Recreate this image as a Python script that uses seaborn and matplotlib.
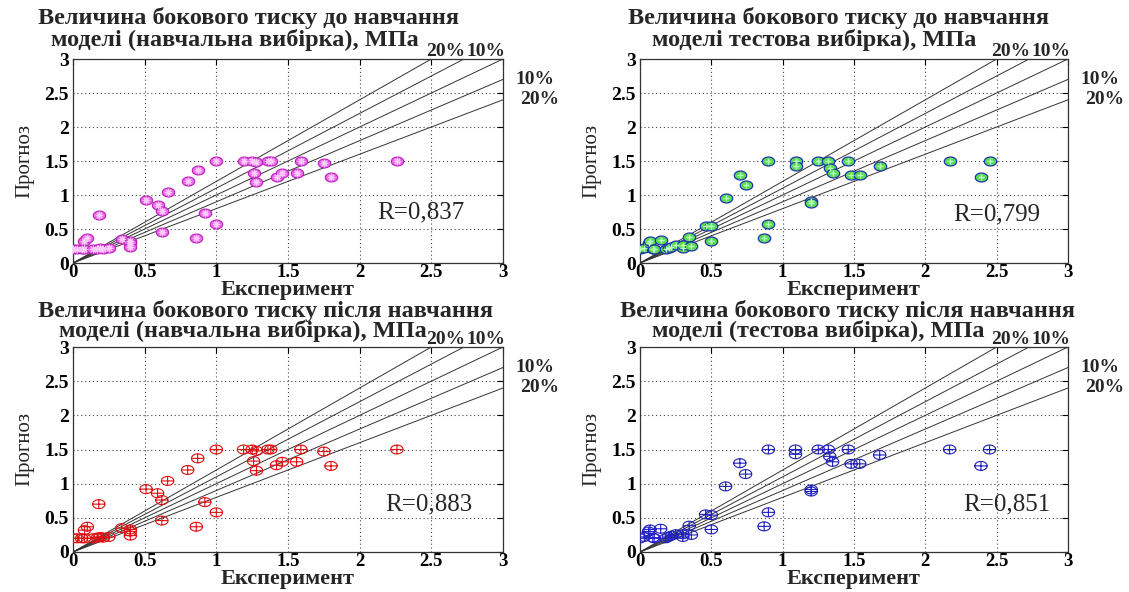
import numpy as np
import pandas as pd
import matplotlib
matplotlib.use("Agg")
import matplotlib.pyplot as plt
from matplotlib.path import Path
import seaborn as sns

# ---- data: lateral pressure, experiment vs. model forecast (MPa) ----
train_exp = [0.00, 0.03, 0.06, 0.08, 0.14, 0.17, 0.19, 0.21, 0.25, 0.08, 0.10,
             0.18, 0.34, 0.40, 0.40, 0.40, 0.51, 0.59, 0.62, 0.62, 0.66, 0.80,
             0.87, 0.86, 0.92, 1.00, 1.00, 1.19, 1.25, 1.28, 1.26, 1.28, 1.36,
             1.38, 1.42, 1.46, 1.56, 1.59, 1.75, 1.80, 2.26]
train_pred = [0.20, 0.20, 0.20, 0.20, 0.20, 0.21, 0.22, 0.21, 0.22, 0.32, 0.37,
              0.70, 0.35, 0.33, 0.30, 0.24, 0.92, 0.86, 0.76, 0.46, 1.04, 1.20,
              1.37, 0.37, 0.73, 1.50, 0.58, 1.50, 1.50, 1.48, 1.33, 1.19, 1.50,
              1.50, 1.27, 1.32, 1.32, 1.50, 1.47, 1.26, 1.50]

test_exp = [0.00, 0.03, 0.06, 0.07, 0.145, 0.09, 0.10, 0.18, 0.20, 0.22, 0.25,
            0.30, 0.30, 0.345, 0.36, 0.46, 0.50, 0.50, 0.60, 0.70, 0.74, 0.90,
            0.90, 0.87, 1.09, 1.09, 1.20, 1.20, 1.25, 1.32, 1.33, 1.35, 1.46,
            1.48, 1.54, 1.68, 2.17, 2.39, 2.45]
test_pred = [0.20, 0.22, 0.30, 0.33, 0.34, 0.21, 0.20, 0.20, 0.22, 0.24, 0.26,
             0.22, 0.26, 0.385, 0.25, 0.55, 0.54, 0.33, 0.96, 1.30, 1.14, 1.50,
             0.58, 0.375, 1.50, 1.43, 0.915, 0.885, 1.50, 1.50, 1.40, 1.32, 1.50,
             1.29, 1.29, 1.42, 1.50, 1.26, 1.50]

# forecast / experiment ratios of the +-10 % and +-20 % bands
band_ratios = [1.2, 1.1, 1.0, 0.9, 0.8]
top_band_labels = ["20%", "10%"]
side_band_labels = ["10%", "20%"]

r_labels = ["R=0,837", "R=0,799", "R=0,883", "R=0,851"]
titles = [
    ("Величина бокового тиску до навчання", "моделі (навчальна вибірка), МПа"),
    ("Величина бокового тиску до навчання", "моделі тестова вибірка), МПа"),
    ("Величина бокового тиску після навчання", "моделі (навчальна вибірка), МПа"),
    ("Величина бокового тиску після навчання", "моделі (тестова вибірка), МПа"),
]
tick_values = [0, 0.5, 1, 1.5, 2, 2.5, 3]
tick_labels = ["0", "0.5", "1", "1.5", "2", "2.5", "3"]
x_label = "Експеримент"
y_label = "Прогноз"

# ---- style ----
sns.set_style("white")
plt.rcParams["font.family"] = ["Liberation Serif", "DejaVu Serif"]

W, H = 1129, 592
fig = plt.figure(figsize=(W / 100, H / 100), dpi=100)

# axes boxes in pixels: left, top, right, bottom
boxes = [(73, 59, 503, 263), (640, 59, 1068, 263),
         (73, 347, 503, 552), (640, 347, 1068, 552)]
# horizontal centres of the two title lines, relative to the axes' left edge
title_offsets = [(175, 162), (198, 174), (193, 170), (208, 178)]
# vertical distance of the two title lines above the axes' top edge
title_rise = [(41, 19), (41, 19), (36, 16), (36, 16)]
r_pos = [(2.43, 0.74), (2.50, 0.72), (2.48, 0.70), (2.57, 0.70)]

# elliptical marker outlines
t = np.linspace(0, 2 * np.pi, 49)
ell = np.column_stack([np.cos(t), 0.72 * np.sin(t)])
ring = Path(ell, closed=False)
cross_verts = np.vstack([ell, [[-1, 0], [1, 0], [0, -0.72], [0, 0.72]]])
cross_codes = ([Path.MOVETO] + [Path.LINETO] * (len(ell) - 1)
               + [Path.MOVETO, Path.LINETO, Path.MOVETO, Path.LINETO])
ring_plus = Path(cross_verts, cross_codes)

datasets = [(train_exp, train_pred), (test_exp, test_pred),
            (train_exp, train_pred), (test_exp, test_pred)]

lab_kw = dict(textcoords="offset points", fontsize=14, fontweight="bold",
              annotation_clip=False)

for i, ((l, tp, r, b), (xs, ys)) in enumerate(zip(boxes, datasets)):
    ax = fig.add_axes([l / W, 1 - b / H, (r - l) / W, (b - tp) / H])
    df = pd.DataFrame({"exp": xs, "pred": ys})

    # ratio lines through the origin, clipped to the 3 x 3 box
    for k in band_ratios:
        x_end = min(3.0, 3.0 / k)
        sns.lineplot(x=[0, x_end], y=[0, k * x_end], ax=ax, color="#333333",
                     linewidth=0.7, zorder=2)

    if i == 0:
        sns.scatterplot(data=df, x="exp", y="pred", ax=ax, marker=ring, s=80,
                        facecolor="#ee66ee", edgecolor="#bb22bb", linewidth=0.8,
                        zorder=3)
        sns.scatterplot(data=df, x="exp", y="pred", ax=ax, marker=(8, 2, 0),
                        s=22, color="#ffccff", linewidth=0.8, zorder=4)
    elif i == 1:
        sns.scatterplot(data=df, x="exp", y="pred", ax=ax, marker=ring, s=80,
                        facecolor="#55dd55", edgecolor="#2233aa", linewidth=0.9,
                        zorder=3)
        sns.scatterplot(data=df, x="exp", y="pred", ax=ax, marker="+",
                        s=22, color="#bbffbb", linewidth=1.0, zorder=4)
    else:
        col = "#e01010" if i == 2 else "#2020c0"
        sns.scatterplot(data=df, x="exp", y="pred", ax=ax, marker=ring_plus,
                        s=80, facecolor="none", edgecolor=col, linewidth=0.8,
                        zorder=3)

    ax.set_xlim(0, 3)
    ax.set_ylim(0, 3)
    ax.set_xticks(tick_values)
    ax.set_yticks(tick_values)
    ax.set_xticklabels(tick_labels, fontsize=13.5, fontweight="bold")
    ax.set_yticklabels(tick_labels, fontsize=14, fontweight="bold")
    ax.tick_params(direction="in", length=4, width=0.8, pad=1,
                   top=True, right=True, colors="black")
    ax.tick_params(axis="y", pad=3)
    ax.grid(True, linestyle=(0, (1, 2.5)), color="#444444", linewidth=0.8)
    ax.set_axisbelow(True)
    for sp in ax.spines.values():
        sp.set_color("#333333")
        sp.set_linewidth(0.9)

    ax.set_xlabel(x_label, fontsize=16, fontweight="bold", labelpad=-1)
    ax.set_ylabel(y_label, fontsize=15, labelpad=7)

    # band labels
    ax.annotate(top_band_labels[0], xy=(3.0 / 1.2, 3.0), xytext=(10, -1),
                ha="center", va="bottom", **lab_kw)
    ax.annotate(top_band_labels[1], xy=(3.0 / 1.1, 3.0), xytext=(16, -1),
                ha="center", va="bottom", **lab_kw)
    ax.annotate(side_band_labels[0], xy=(3.0, 3.0 * 0.9), xytext=(9, 0),
                ha="left", va="center", **lab_kw)
    ax.annotate(side_band_labels[1], xy=(3.0, 3.0 * 0.8), xytext=(12, 0),
                ha="left", va="center", **lab_kw)

    ax.text(*r_pos[i], r_labels[i], ha="center", va="center", fontsize=18)

    # two-line title
    o1, o2 = title_offsets[i]
    h1, h2 = title_rise[i]
    fig.text((l + o1) / W, 1 - (tp - h1) / H, titles[i][0], ha="center",
             va="center", fontsize=17.5, fontweight="bold")
    fig.text((l + o2) / W, 1 - (tp - h2) / H, titles[i][1], ha="center",
             va="center", fontsize=17.5, fontweight="bold")

fig.savefig("out.png", dpi=100, facecolor="white")
